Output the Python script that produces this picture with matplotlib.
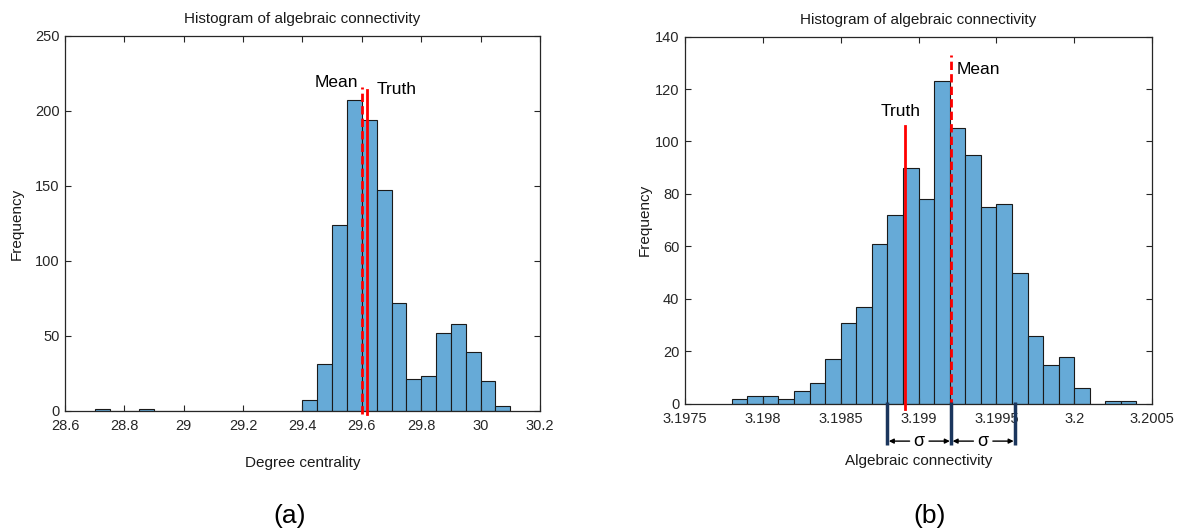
import numpy as np
import matplotlib
matplotlib.use('Agg')
import matplotlib.pyplot as plt

plt.rcParams['font.family'] = ['Liberation Sans', 'DejaVu Sans']

# (a) degree centrality histogram, bin width 0.05 starting at 28.70
deg_start = 28.70
deg_width = 0.05
deg_counts = [1, 0, 0, 1, 0, 0, 0, 0, 0, 0, 0, 0, 0, 0,
              7, 31, 124, 207, 194, 147, 72, 21, 23, 52, 58, 39, 20, 3]
deg_mean = 29.600
deg_truth = 29.617
deg_xticks = [28.6, 28.8, 29.0, 29.2, 29.4, 29.6, 29.8, 30.0, 30.2]
deg_xlabels = ['28.6', '28.8', '29', '29.2', '29.4', '29.6', '29.8', '30', '30.2']
deg_yticks = [0, 50, 100, 150, 200, 250]

# (b) algebraic connectivity histogram, bin width 0.0001 starting at 3.1978
alg_start = 3.1978
alg_width = 0.0001
alg_counts = [2, 3, 3, 2, 5, 8, 17, 31, 37, 61, 72, 90, 78, 123, 105,
              95, 75, 76, 50, 26, 15, 18, 6, 0, 1, 1]
alg_mean = 3.19921
alg_truth = 3.19891
alg_sigma = 0.00041
alg_xticks = [3.1975, 3.198, 3.1985, 3.199, 3.1995, 3.2, 3.2005]
alg_xlabels = ['3.1975', '3.198', '3.1985', '3.199', '3.1995', '3.2', '3.2005']
alg_yticks = [0, 20, 40, 60, 80, 100, 120, 140]

bar_face = '#66AAD7'
bar_edge = '#1a1a1a'
axis_col = '#262626'
navy = '#1B365D'


def style_axes(ax):
    for s in ax.spines.values():
        s.set_color(axis_col)
        s.set_linewidth(0.9)
    ax.tick_params(direction='in', length=4, width=0.8, colors=axis_col,
                   labelsize=10.5, top=True, right=True)
    ax.tick_params(axis='x', pad=6)
    ax.tick_params(axis='y', pad=4)


fig = plt.figure(figsize=(11.77, 5.29), dpi=100)
ax1 = fig.add_axes([0.0552, 0.2231, 0.4036, 0.7089])
ax2 = fig.add_axes([0.582, 0.2363, 0.3968, 0.6947])

# ---- (a)
lefts = [deg_start + i * deg_width for i in range(len(deg_counts))]
ax1.bar(lefts, deg_counts, width=deg_width, align='edge',
        color=bar_face, edgecolor=bar_edge, linewidth=0.8)
ax1.plot([deg_mean, deg_mean], [-2, 216], color='red', lw=2, ls='--',
         dashes=(3, 1.5), clip_on=False, zorder=5)
ax1.plot([deg_truth, deg_truth], [-2, 214], color='red', lw=2,
         clip_on=False, zorder=5)
ax1.text(29.586, 219, 'Mean', ha='right', va='center', fontsize=12.5)
ax1.text(29.651, 214, 'Truth', ha='left', va='center', fontsize=12.5)
ax1.set_xlim(28.6, 30.2)
ax1.set_ylim(0, 250)
ax1.set_xticks(deg_xticks)
ax1.set_xticklabels(deg_xlabels)
ax1.set_yticks(deg_yticks)
style_axes(ax1)
ax1.set_title('Histogram of algebraic connectivity', fontsize=11, pad=9,
              color='#1a1a1a')
ax1.set_xlabel('Degree centrality', fontsize=11, color='#1a1a1a')
ax1.set_ylabel('Frequency', fontsize=11, color='#1a1a1a')
ax1.xaxis.set_label_coords(0.5, -0.119)
ax1.yaxis.set_label_coords(-0.086, 0.5)

# ---- (b)
lefts = [alg_start + i * alg_width for i in range(len(alg_counts))]
ax2.bar(lefts, alg_counts, width=alg_width, align='edge',
        color=bar_face, edgecolor=bar_edge, linewidth=0.8)
ax2.plot([alg_mean, alg_mean], [-1, 133], color='red', lw=2, ls='--',
         dashes=(3, 1.5), clip_on=False, zorder=5)
ax2.plot([alg_truth, alg_truth], [-2, 106], color='red', lw=2,
         clip_on=False, zorder=5)
ax2.text(3.198884, 111.6, 'Truth', ha='center', va='center', fontsize=12.5)
ax2.text(3.199244, 127.6, 'Mean', ha='left', va='center', fontsize=12.5)
ax2.set_xlim(3.1975, 3.2005)
ax2.set_ylim(0, 140)
ax2.set_xticks(alg_xticks)
ax2.set_xticklabels(alg_xlabels)
ax2.set_yticks(alg_yticks)
style_axes(ax2)
ax2.set_title('Histogram of algebraic connectivity', fontsize=11, pad=9,
              color='#1a1a1a')
ax2.set_xlabel('Algebraic connectivity', fontsize=11, color='#1a1a1a')
ax2.set_ylabel('Frequency', fontsize=11, color='#1a1a1a')
ax2.xaxis.set_label_coords(0.5, -0.136)
ax2.yaxis.set_label_coords(-0.071, 0.5)

# sigma markers below the axis
tr = ax2.get_xaxis_transform()
marks = [alg_mean - alg_sigma, alg_mean, alg_mean + alg_sigma]
for xm in marks:
    ax2.plot([xm, xm], [0.005, -0.112], transform=tr, color=navy, lw=2.5,
             clip_on=False, zorder=6, solid_capstyle='butt')
y_arr = -0.101
for a, b in [(marks[0], marks[1]), (marks[1], marks[2])]:
    c = (a + b) / 2
    ax2.text(c, y_arr, 'σ', transform=tr, ha='center', va='center',
             fontsize=13)
    for end in (a, b):
        ax2.annotate('', xy=(end, y_arr), xytext=(c, y_arr),
                     xycoords=tr, textcoords=tr, annotation_clip=False,
                     arrowprops=dict(arrowstyle='-|>', color='k', lw=1,
                                     shrinkA=7, shrinkB=1,
                                     mutation_scale=7))

fig.text(0.246, 0.002, '(a)', ha='center', va='bottom', fontsize=19)
fig.text(0.790, 0.002, '(b)', ha='center', va='bottom', fontsize=19)

plt.savefig('out.png', dpi=100)
